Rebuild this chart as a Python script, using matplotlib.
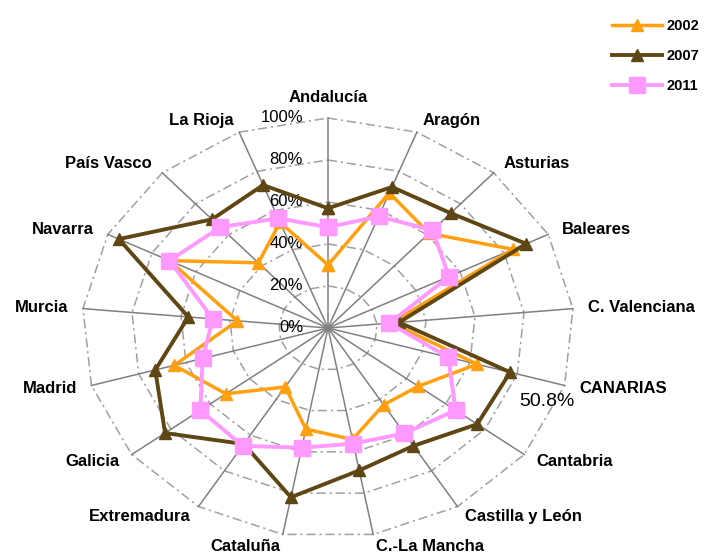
import numpy as np
import matplotlib.pyplot as plt

regiones = ["Andalucía", "Aragón", "Asturias", "Baleares", "C. Valenciana",
            "CANARIAS", "Cantabria", "Castilla y León", "C.-La Mancha",
            "Cataluña", "Extremadura", "Galicia", "Madrid", "Murcia",
            "Navarra", "País Vasco", "La Rioja"]

v2002 = [30, 69, 61, 84, 26, 63, 46, 43, 54, 49, 33, 52, 65, 37, 72, 42, 54]
v2007 = [57, 72, 74, 90, 29, 77, 76, 66, 69, 82, 65, 83, 73, 57, 95, 70, 73]
v2011 = [48, 57, 63, 55, 25, 50.8, 65, 59, 56, 58, 66, 65, 53, 47, 72, 65, 56]

anios = ["2002", "2007", "2011"]
ticks = [0, 20, 40, 60, 80, 100]

plt.rcParams['font.family'] = ['Liberation Sans', 'DejaVu Sans']

fig = plt.figure(figsize=(7.08, 5.55), dpi=100)
ax = fig.add_axes([0, 0, 1, 1])
# the web is a bit wider than tall
ax.set_xlim(-328 / 246, 380 / 246)
ax.set_ylim(-227 / 210, 328 / 210)
ax.axis('off')

n = len(regiones)
ang = np.arange(n) * 2 * np.pi / n
sx, cy = np.sin(ang), np.cos(ang)


def xy(vals):
    r = np.asarray(vals, dtype=float) / 100.0
    x = r * sx
    y = r * cy
    return np.append(x, x[0]), np.append(y, y[0])


# gridlines
for t in ticks[1:]:
    x, y = xy([t] * n)
    ax.plot(x, y, color='#a0a0a0', lw=1.1, ls=(0, (6, 2.5, 1.5, 2.5)), zorder=1)
for i in range(n):
    ax.plot([0, sx[i]], [0, cy[i]], color='#808080', lw=1.1, zorder=1)

for t in ticks:
    ax.annotate(f"{t}%", xy=(0, t / 100), xytext=(-25, 0), textcoords='offset pixels',
                ha='right', va='center', fontsize=12)

for i, name in enumerate(regiones):
    s, c = sx[i], cy[i]
    if abs(s) < 0.05:
        ha, off = 'center', (0, 20)
    else:
        ha = 'left' if s > 0 else 'right'
        off = (15 * s, 12 * c)
    ax.annotate(name, xy=(s, c), xytext=off, textcoords='offset pixels',
                ha=ha, va='center', fontsize=12, fontweight='bold')

styles = [('#FFA010', '^', 2.5, 8), ('#5E4714', '^', 2.8, 8), ('#FF99FF', 's', 2.8, 12)]
handles = []
for vals, lab, (col, mk, lw, ms) in zip([v2002, v2007, v2011], anios, styles):
    x, y = xy(vals)
    ln, = ax.plot(x, y, color=col, lw=lw, marker=mk, ms=ms, mec=col, mfc=col,
                  label=lab, zorder=3)
    handles.append(ln)

# value label on Canarias 2011
k = regiones.index("CANARIAS")
val = v2011[k]
ax.annotate(f"{val:.1f}%", xy=(val / 100 * sx[k], val / 100 * cy[k]), xytext=(99, -44),
            textcoords='offset pixels', ha='center', va='center', fontsize=14)

ax.legend(handles=handles, loc='upper left', bbox_to_anchor=(612 / 708, 1 - 19 / 555),
          bbox_transform=fig.transFigure, frameon=False, handlelength=3.4,
          handletextpad=0.35, labelspacing=1.1, borderpad=0, borderaxespad=0,
          numpoints=1, prop={'weight': 'bold', 'size': 10.5})

fig.savefig("out.png", dpi=100)
